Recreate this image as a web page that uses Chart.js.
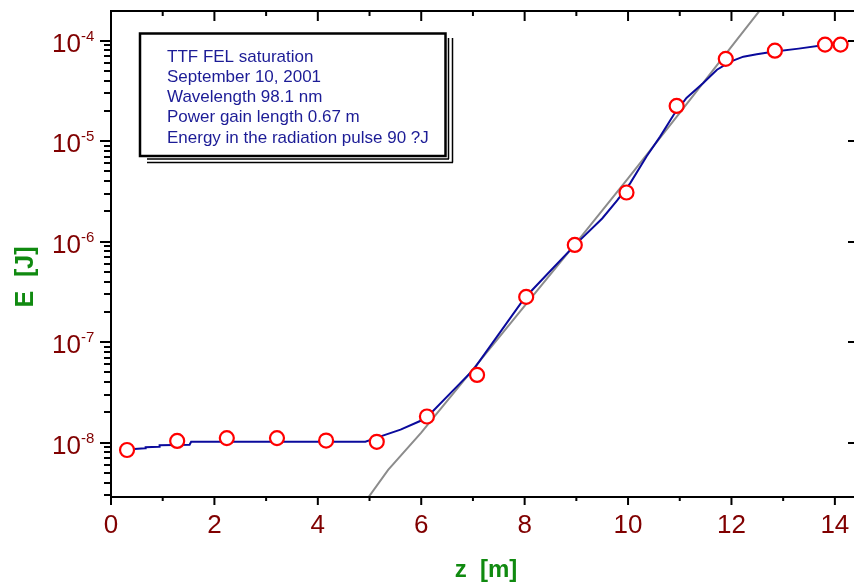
<!DOCTYPE html>
<html>
<head>
<meta charset="utf-8">
<script src="https://cdn.jsdelivr.net/npm/chart.js@4.4.0/dist/chart.umd.min.js"></script>
<style>
html, body { margin: 0; padding: 0; background: #fff; }
#wrap { width: 854px; height: 585px; }
</style>
</head>
<body>
<div id="wrap"><canvas id="fel" width="854" height="585"></canvas></div>
<script>
// measured pulse energy (red circles)
var measZ = [0.31, 1.28, 2.24, 3.21, 4.16, 5.14, 6.11, 7.08, 8.03, 8.97, 9.97, 10.94, 11.89, 12.84, 13.81, 14.11];
var measE = [8.45e-9, 1.04e-8, 1.11e-8, 1.11e-8, 1.05e-8, 1.02e-8, 1.82e-8, 4.72e-8, 2.82e-7, 9.27e-7, 3.08e-6, 2.24e-5, 6.58e-5, 7.94e-5, 9.12e-5, 9.12e-5];

// simulation (blue)
var simZ = [0.45, 0.66, 0.67, 0.93, 0.94, 1.52, 1.55, 4.92, 5.2, 5.6, 6.0, 6.2, 6.75, 7.0, 7.5, 8.0, 8.5, 9.0, 9.5, 9.79, 10.04, 10.36, 10.62, 10.88, 11.13, 11.46, 11.72, 11.98, 12.23, 12.49, 12.8, 13.3, 13.8, 14.25];
var simE = [8.65e-9, 8.81e-9, 9.02e-9, 9.12e-9, 9.44e-9, 9.55e-9, 1.023e-8, 1.023e-8, 1.148e-8, 1.349e-8, 1.66e-8, 2.0e-8, 3.89e-8, 5.25e-8, 1.2e-7, 2.75e-7, 5.13e-7, 9.55e-7, 1.7e-6, 2.57e-6, 3.8e-6, 7.08e-6, 1.109e-5, 1.82e-5, 2.69e-5, 3.8e-5, 5.13e-5, 6.17e-5, 6.92e-5, 7.33e-5, 7.76e-5, 8.32e-5, 9.02e-5, 9.23e-5];

// exponential growth (grey)
var fitZ = [4.9, 5.36, 6, 7, 8, 9, 10, 11, 12, 12.7];
var fitE = [2.51e-9, 5.37e-9, 1.26e-8, 5.37e-8, 2.29e-7, 9.77e-7, 4.27e-6, 1.91e-5, 8.71e-5, 2.51e-4];

var xTicks = [0, 2, 4, 6, 8, 10, 12, 14];
var yTicks = [1e-8, 1e-7, 1e-6, 1e-5, 1e-4];
var yExp = ['-8', '-7', '-6', '-5', '-4'];

var noteLines = [
  'TTF FEL saturation',
  'September 10, 2001',
  'Wavelength 98.1 nm',
  'Power gain length 0.67 m',
  'Energy in the radiation pulse 90 ?J'
];

function pts(xs, ys) {
  return xs.map(function (x, i) { return { x: x, y: ys[i] }; });
}

var FONT = '"Liberation Sans", Arial, sans-serif';

var frame = {
  id: 'frame',
  afterDraw: function (chart) {
    var c = chart.ctx, a = chart.chartArea;
    var xs = chart.scales.x, ys = chart.scales.y;
    c.save();
    c.strokeStyle = '#000';
    c.lineWidth = 2;
    c.beginPath();
    c.moveTo(a.left - 1, a.top); c.lineTo(a.right, a.top);
    c.moveTo(a.left, a.top); c.lineTo(a.left, a.bottom);
    c.moveTo(a.left - 1, a.bottom); c.lineTo(a.right, a.bottom);
    for (var v = 0; v <= 14; v++) {
      var px = xs.getPixelForValue(v), major = v % 2 === 0;
      c.moveTo(px, a.bottom); c.lineTo(px, a.bottom + (major ? 8 : 4));
      c.moveTo(px, a.top); c.lineTo(px, a.top + (major ? 10 : 5));
    }
    for (var d = -9; d <= -4; d++) {
      for (var m = 1; m <= 9; m++) {
        var val = m * Math.pow(10, d);
        if (val < ys.min || val > ys.max) continue;
        var py = Math.round(ys.getPixelForValue(val));
        c.moveTo(a.left, py); c.lineTo(a.left - (m === 1 ? 11 : 7), py);
        if (m === 1) { c.moveTo(a.right, py); c.lineTo(a.right - 6, py); }
      }
    }
    c.stroke();

    // tick labels
    c.fillStyle = '#800000';
    c.textBaseline = 'alphabetic';
    c.textAlign = 'center';
    c.font = '26px ' + FONT;
    xTicks.forEach(function (t) {
      c.fillText(String(t), xs.getPixelForValue(t), a.bottom + 36);
    });
    yTicks.forEach(function (t, i) {
      var py = ys.getPixelForValue(t);
      c.font = '26px ' + FONT;
      c.textAlign = 'right';
      c.fillText('10', 81, py + 11);
      c.font = '15px ' + FONT;
      c.textAlign = 'left';
      c.fillText(yExp[i], 81, py);
    });

    // axis titles
    c.fillStyle = '#108a10';
    c.font = 'bold 24px ' + FONT;
    c.textAlign = 'center';
    c.fillText('z  [m]', 486, 577);
    c.save();
    c.translate(33, 277);
    c.rotate(-Math.PI / 2);
    c.font = 'bold 25px ' + FONT;
    c.fillText('E  [J]', 0, 0);
    c.restore();

    // note box with shadow
    c.lineWidth = 1.5;
    c.beginPath();
    c.moveTo(147, 159); c.lineTo(449, 159);
    c.moveTo(147, 162.5); c.lineTo(453, 162.5);
    c.moveTo(448.5, 38); c.lineTo(448.5, 159);
    c.moveTo(452.5, 38); c.lineTo(452.5, 162.5);
    c.stroke();
    c.fillStyle = '#fff';
    c.fillRect(139, 33, 307, 123);
    c.lineWidth = 2.5;
    c.strokeRect(140, 33.5, 305.5, 122.5);
    c.fillStyle = '#1c1c96';
    c.font = '17px ' + FONT;
    c.textAlign = 'left';
    var base = [62, 82, 102, 122, 143];
    noteLines.forEach(function (s, i) { c.fillText(s, 167, base[i]); });
    c.restore();
  }
};

new Chart(document.getElementById('fel'), {
  type: 'line',
  data: {
    datasets: [
      {
        label: 'measurement',
        data: pts(measZ, measE),
        showLine: false,
        pointStyle: 'circle',
        pointRadius: 7,
        pointBorderWidth: 2.2,
        pointBorderColor: '#ff0000',
        pointBackgroundColor: '#ffffff',
        order: 0
      },
      {
        label: 'simulation',
        data: pts(simZ, simE),
        borderColor: '#0a0a9c',
        borderWidth: 2,
        pointRadius: 0,
        tension: 0,
        order: 1
      },
      {
        label: 'exponential',
        data: pts(fitZ, fitE),
        borderColor: '#8c8c8c',
        borderWidth: 2,
        pointRadius: 0,
        tension: 0,
        clip: 0,
        order: 2
      }
    ]
  },
  options: {
    responsive: false,
    animation: false,
    devicePixelRatio: 1,
    layout: { autoPadding: false, padding: { left: 111, top: 11, right: 0, bottom: 88 } },
    scales: {
      x: { type: 'linear', min: 0, max: 14.37, display: false },
      y: { type: 'logarithmic', min: 2.88e-9, max: 1.97e-4, display: false }
    },
    plugins: {
      legend: { display: false },
      tooltip: { enabled: false }
    }
  },
  plugins: [frame]
});
</script>
</body>
</html>
